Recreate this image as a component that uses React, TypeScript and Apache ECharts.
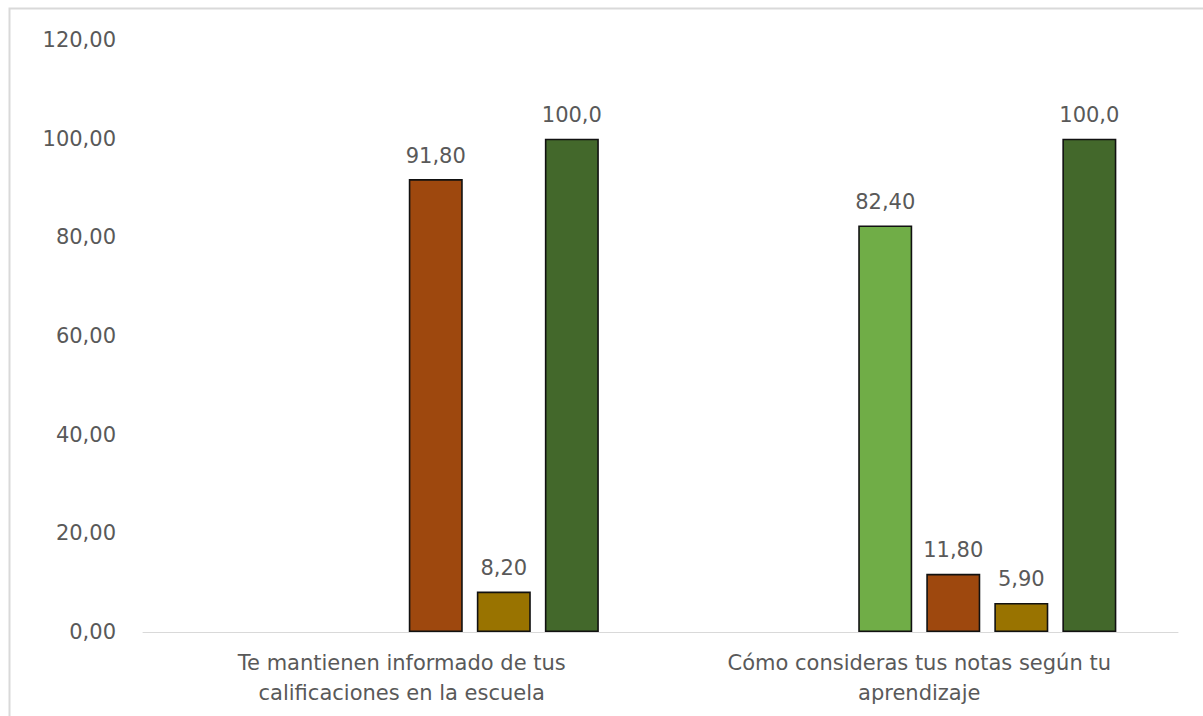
import React, { useEffect, useRef } from "react";
import * as echarts from "echarts";

const categories = [
  "Te mantienen informado de tus\ncalificaciones en la escuela",
  "Cómo consideras tus notas según tu\naprendizaje",
];
const seriesNames = ["Serie A", "Serie B", "Serie C", "Serie D", "Serie E", "Total"];
const seriesColors = ["#4472C4", "#ED7D31", "#70AD47", "#9E480E", "#997300", "#43682B"];
const seriesValues: (number | null)[][] = [
  [null, null],
  [null, null],
  [null, 82.4],
  [91.8, 11.8],
  [8.2, 5.9],
  [100.0, 100.0],
];
const seriesLabels: string[][] = [
  ["", ""],
  ["", ""],
  ["", "82,40"],
  ["91,80", "11,80"],
  ["8,20", "5,90"],
  ["100,0", "100,0"],
];
const yTicks = ["0,00", "20,00", "40,00", "60,00", "80,00", "100,00", "120,00"];

const FONT = "DejaVu Sans";

export default function App() {
  const ref = useRef<HTMLDivElement>(null);
  useEffect(() => {
    if (!ref.current) return;
    const chart = echarts.init(ref.current, undefined, { renderer: "svg" });
    chart.setOption({
      animation: false,
      backgroundColor: "#ffffff",
      graphic: [
        {
          type: "rect",
          shape: { x: 9.5, y: 8.5, width: 1300, height: 800 },
          style: { fill: "none", stroke: "#d9d9d9", lineWidth: 2 },
          silent: true,
        },
      ],
      grid: { left: 143, right: 25, top: 40, bottom: 84, containLabel: false },
      xAxis: {
        type: "category",
        data: categories,
        axisLine: { lineStyle: { color: "#d9d9d9", width: 1 } },
        axisTick: { show: false },
        axisLabel: {
          color: "#595959",
          fontFamily: FONT,
          fontSize: 21,
          lineHeight: 30,
          margin: 16,
          interval: 0,
        },
      },
      yAxis: {
        type: "value",
        min: 0,
        max: 120,
        interval: 20,
        splitLine: { show: false },
        axisLine: { show: false },
        axisTick: { show: false },
        axisLabel: {
          color: "#595959",
          fontFamily: FONT,
          fontSize: 21,
          margin: 27,
          formatter: (v: number) => yTicks[Math.round(v / 20)],
        },
      },
      series: seriesNames.map((name, i) => ({
        name,
        type: "bar",
        data: seriesValues[i],
        barWidth: 54,
        barGap: "26%",
        itemStyle: { color: seriesColors[i], borderColor: "#111111", borderWidth: 1.6 },
        label: {
          show: true,
          position: "top",
          distance: 13,
          color: "#595959",
          fontFamily: FONT,
          fontSize: 21,
          formatter: (p: any) => seriesLabels[i][p.dataIndex],
        },
      })),
    });
    return () => chart.dispose();
  }, []);
  return (
    <div
      ref={ref}
      style={{ position: "absolute", left: 0, top: 0, width: 1203, height: 716 }}
    />
  );
}
